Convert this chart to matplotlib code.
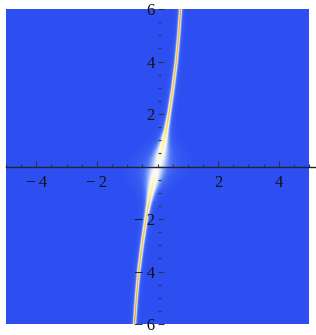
import numpy as np
import matplotlib.pyplot as plt
from matplotlib.colors import LinearSegmentedColormap
from matplotlib.ticker import MultipleLocator, FixedLocator

# ridge (upper half, lower half is point symmetric)
ridge_y = [0.0, 0.3, 0.65, 1.0, 1.4, 2.0, 3.0, 4.0, 5.0, 6.0]
ridge_x = [0.03, 0.08, 0.15, 0.22, 0.29, 0.38, 0.51, 0.62, 0.70, 0.76]
ridge_w = [0.30, 0.27, 0.21, 0.14, 0.09, 0.065, 0.058, 0.054, 0.05, 0.048]
ridge_peak = [0.40, 0.46, 0.50, 0.55, 0.61, 0.66, 0.68, 0.70, 0.72, 0.75]

x_ticks = [-4, -2, 2, 4]
y_ticks = [-6, -4, -2, 2, 4, 6]

# Mathematica-like TemperatureMap
temp_cols = [(0.0, (0.178, 0.313, 0.951)),
             (0.15, (0.33, 0.48, 0.96)),
             (0.3, (0.58, 0.70, 0.98)),
             (0.45, (0.90, 0.93, 0.98)),
             (0.52, (0.99, 0.99, 0.93)),
             (0.62, (0.99, 0.95, 0.62)),
             (0.72, (0.97, 0.78, 0.36)),
             (0.85, (0.94, 0.45, 0.20)),
             (1.0, (0.902, 0.078, 0.10))]
cmap = LinearSegmentedColormap.from_list('temp', temp_cols)

xs = np.linspace(-5, 5, 1200)
ys = np.linspace(-6, 6, 1400)
X, Y = np.meshgrid(xs, ys)
ay = np.abs(Y)
cx = np.sign(Y) * np.interp(ay, ridge_y, ridge_x)
w = np.interp(ay, ridge_y, ridge_w)
pk = np.interp(ay, ridge_y, ridge_peak)
d = X - cx
Z = pk * np.exp(-(d / w) ** 2) + 0.08 * np.exp(-(d / (2.5 * w)) ** 2)

fig = plt.figure(figsize=(3.16, 3.35), dpi=100)
ax = fig.add_axes([6 / 316, 11 / 335, 303 / 316, 315 / 335])
ax.imshow(Z, extent=[-5, 5, -6, 6], origin='lower', aspect='auto',
          cmap=cmap, vmin=0, vmax=1, interpolation='antialiased')
ax.set_xlim(-5, 5)
ax.set_ylim(-6, 6)

for s in ['top', 'right']:
    ax.spines[s].set_visible(False)
ax.spines['bottom'].set_position(('data', 0))
ax.spines['bottom'].set_bounds(-5, 5.25)
ax.spines['bottom'].set_color('#222233')
ax.spines['bottom'].set_linewidth(1.0)
ax.spines['left'].set_position(('data', 0))
ax.spines['left'].set_visible(False)

ax.xaxis.set_major_locator(FixedLocator(x_ticks))
ax.yaxis.set_major_locator(FixedLocator(y_ticks))
ax.xaxis.set_minor_locator(MultipleLocator(0.5))
ax.yaxis.set_minor_locator(MultipleLocator(0.5))
ax.set_xticklabels([('\u2212\u2009' + str(-t)) if t < 0 else str(t) for t in x_ticks])
ax.set_yticklabels([('\u2212\u2009' + str(-t)) if t < 0 else str(t) for t in y_ticks])

ax.tick_params(which='both', direction='in', color='#333344', width=0.8)
ax.tick_params(which='major', length=4)
ax.tick_params(which='minor', length=2.5)
ax.tick_params(axis='x', which='major', pad=6)
ax.tick_params(axis='y', which='major', pad=2)
for lab in ax.get_xticklabels() + ax.get_yticklabels():
    lab.set_fontfamily('Liberation Serif')
    lab.set_fontsize(12)
    lab.set_color('#111111')

fig.savefig('out.png', dpi=100)
